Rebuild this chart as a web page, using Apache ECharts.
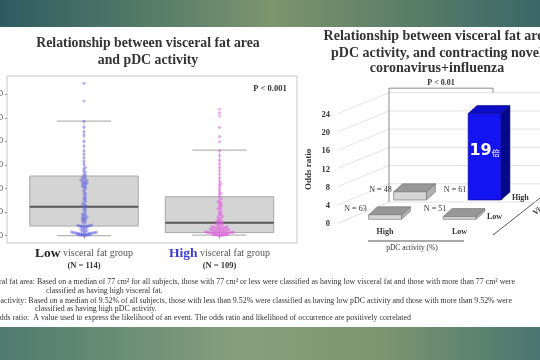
<!DOCTYPE html>
<html><head><meta charset="utf-8">
<script src="https://cdn.jsdelivr.net/npm/echarts@6/dist/echarts.min.js"></script>
<style>html,body{margin:0;padding:0;background:#fff}#c{width:540px;height:360px}</style>
</head><body><div id="c"></div>
<script>
// ---------- Left chart data (pDC activity by visceral fat group) ----------
const groupNames = ['Low', 'High'];
const groupN = [114, 109];
// [lower whisker, Q1, median, Q3, upper whisker]
const boxStats = [
  [0, 4.1, 12.3, 25.3, 48.6],
  [0.2, 1.3, 5.5, 16.5, 36.3]
];
const lowValues = [
  0.1,0.2,0.2,0.3,0.3,0.4,0.4,0.5,0.5,0.6,0.6,0.7,0.7,0.8,0.9,0.9,1.0,1.0,1.1,1.1,1.2,1.3,1.3,1.4,1.5,1.6,1.7,1.8,2.0,2.2,
  2.5,2.8,3.0,3.3,3.6,3.8,3.9,4.0,4.0,4.1,4.1,4.2,4.2,4.3,4.4,4.5,
  5.2,5.8,6.0,6.5,6.8,7.0,7.3,7.6,7.8,8.0,8.5,8.8,9.0,9.5,
  10.2,10.8,11.3,11.8,12.3,12.8,13.0,13.4,14.0,14.6,15.3,15.8,16.0,16.8,17.4,18.0,18.6,19.3,19.9,
  20.5,20.8,21.0,21.5,21.8,22.0,22.3,22.6,22.8,23.0,23.4,23.6,23.8,24.2,24.6,25.0,25.5,26.0,
  26.8,27.5,28.3,29.0,30.2,31.5,33.0,34.5,
  36.0,38.0,40.0,42.5,44.0,46.0,48.5,
  57.1,64.6
];
const highValues = [
  0.1,0.1,0.2,0.2,0.3,0.3,0.4,0.4,0.5,0.5,0.6,0.6,0.7,0.7,0.8,0.8,0.9,0.9,1.0,1.0,1.1,1.1,1.2,1.3,1.3,1.4,1.5,1.5,1.6,1.7,1.7,1.8,1.9,1.9,2.0,
  2.1,2.2,2.3,2.4,2.5,2.6,2.7,2.8,2.9,3.0,3.1,3.2,3.3,3.4,3.5,3.6,3.7,3.8,3.9,4.0,
  4.3,4.6,4.8,5.0,5.3,5.5,5.6,6.0,6.2,6.4,6.8,
  7.2,7.7,8.0,8.2,8.8,9.0,9.4,9.9,
  10.5,11.2,11.5,11.8,12.5,12.8,13.1,13.8,14.0,14.4,15.0,15.7,16.4,
  17.5,18.0,18.5,19.5,20.5,21.5,22.0,23.0,24.5,
  26.0,27.5,29.0,30.5,32.0,34.0,36.0,
  39.8,42.0,45.9,50.7,52.1,53.6
];
const yTicks = [0, 10, 20, 30, 40, 50, 60];

// ---------- Right chart data (odds ratio) ----------
const pdcCats = ['High', 'Low'];        // pDC activity columns
const fatCats = ['Low', 'High'];        // visceral fat rows (front, back)
const oddsValues = [[1.0, 0.6], [1.8, 19]];   // [fat row][pdc col]
const groupCounts = [[63, 51], [48, 61]];
const oddsTicks = [0, 4, 8, 12, 16, 20, 24];
const oddsUnit = '倍';

// ---------- layout helpers ----------
function swarm(values, center) {
  const bins = {};
  const step = 0.0115;
  return values.slice().sort((a, b) => a - b).map(v => {
    const k = Math.round(v / 1.1);
    const j = bins[k] = (bins[k] || 0) + 1;
    const idx = j - 1;
    const off = idx === 0 ? 0 : (idx % 2 ? 1 : -1) * Math.ceil(idx / 2) * step;
    return [center + off, v];
  });
}

const SERIF = '"Liberation Serif", "DejaVu Serif", serif';
const chart = echarts.init(document.getElementById('c'), null, {width: 540, height: 360});

const boxData = boxStats.map((s, i) => [i + 1].concat(s));
const barData = [];
[1, 0].forEach(r => pdcCats.forEach((c, ci) => barData.push([ci, oddsValues[r][ci], r, groupCounts[r][ci]])));

const ROW_DX = 25, ROW_DY = 19.3, BASE_LIFT = 4.7, DEP_DX = 9, DEP_DY = -8, WALL_DX = 51, WALL_DY = 22;

const option = {
  animation: false,
  backgroundColor: '#ffffff',
  grid: [
    {left: 7, right: 243, top: 76, bottom: 117, show: true, borderColor: '#c6c6c6', borderWidth: 1, backgroundColor: '#ffffff', containLabel: false, outerBoundsMode: 'none'},
    {left: 336, right: 0, top: 114.7, bottom: 136, show: false, containLabel: false, outerBoundsMode: 'none'}
  ],
  xAxis: [
    {gridIndex: 0, type: 'value', min: 0.432, max: 2.572, splitLine: {show: false}, axisLine: {show: false},
     axisTick: {show: true, customValues: [1, 2], length: 3, lineStyle: {color: '#999'}},
     axisLabel: {customValues: [1, 2], margin: 4,
       formatter: function (v) {
         const i = Math.round(v) - 1;
         const key = i === 0 ? 'a' : 'b';
         return '{' + key + '|' + groupNames[i] + '}{g| visceral fat group}\n{n|(N = ' + groupN[i] + ')}';
       },
       rich: {
         a: {fontFamily: SERIF, fontWeight: 'bold', fontSize: 13.5, color: '#1e1e1e', lineHeight: 13},
         b: {fontFamily: SERIF, fontWeight: 'bold', fontSize: 13.5, color: '#3b3bd6', lineHeight: 13},
         g: {fontFamily: SERIF, fontSize: 10, color: '#555', lineHeight: 13},
         n: {fontFamily: SERIF, fontWeight: 'bold', fontSize: 8.5, color: '#333', lineHeight: 11}
       }}},
    {gridIndex: 1, type: 'value', min: -0.658, max: 2.08, show: false}
  ],
  yAxis: [
    {gridIndex: 0, type: 'value', min: -3.1, max: 67.7, splitLine: {show: false}, axisLine: {show: false},
     axisTick: {show: true, customValues: yTicks, length: 2, lineStyle: {color: '#999'}},
     axisLabel: {customValues: yTicks, margin: 4, fontSize: 8, color: '#444', fontFamily: SERIF}},
    {gridIndex: 1, type: 'value', min: 0, max: 24, interval: 4, splitLine: {show: false},
     axisLine: {show: false}, axisTick: {show: false},
     axisLabel: {margin: 6, fontSize: 8.5, fontWeight: 'bold', color: '#333', fontFamily: SERIF},
     name: 'Odds ratio', nameLocation: 'middle', nameRotate: 90, nameGap: 23,
     nameTextStyle: {fontFamily: SERIF, fontWeight: 'bold', fontSize: 9, color: '#333'}}
  ],
  series: [
    // boxes
    {type: 'custom', xAxisIndex: 0, yAxisIndex: 0, data: boxData, encode: {x: 0, y: [1, 2, 3, 4, 5]}, z: 2,
     renderItem: function (params, api) {
       const x = api.value(0);
       const p = [1, 2, 3, 4, 5].map(d => api.coord([x, api.value(d)]));
       const w = api.size([0.8, 0])[0], cw = api.size([0.4, 0])[0];
       const cx = p[0][0];
       return {type: 'group', children: [
         {type: 'line', shape: {x1: cx, y1: p[4][1], x2: cx, y2: p[3][1]}, style: {stroke: '#cfcfcf', lineWidth: 1}},
         {type: 'line', shape: {x1: cx, y1: p[0][1], x2: cx, y2: p[1][1]}, style: {stroke: '#cfcfcf', lineWidth: 1}},
         {type: 'line', shape: {x1: cx - cw / 2, y1: p[4][1], x2: cx + cw / 2, y2: p[4][1]}, style: {stroke: '#b5b5b5', lineWidth: 1.2}},
         {type: 'line', shape: {x1: cx - cw / 2, y1: p[0][1], x2: cx + cw / 2, y2: p[0][1]}, style: {stroke: '#b5b5b5', lineWidth: 1.2}},
         {type: 'rect', shape: {x: cx - w / 2, y: p[3][1], width: w, height: p[1][1] - p[3][1]}, style: {fill: '#d4d4d4', stroke: '#a6a6a6', lineWidth: 1}},
         {type: 'line', shape: {x1: cx - w / 2, y1: p[2][1], x2: cx + w / 2, y2: p[2][1]}, style: {stroke: '#555', lineWidth: 2}}
       ]};
     }},
    {type: 'scatter', xAxisIndex: 0, yAxisIndex: 0, data: swarm(lowValues, 1), symbolSize: 3.2, z: 3,
     itemStyle: {color: 'rgba(95,95,225,0.55)'}},
    {type: 'scatter', xAxisIndex: 0, yAxisIndex: 0, data: swarm(highValues, 2), symbolSize: 3.2, z: 3,
     itemStyle: {color: 'rgba(225,95,225,0.6)'}},

    // right chart walls (grid lines on side wall + back wall)
    {type: 'custom', xAxisIndex: 1, yAxisIndex: 1, clip: false, z: 1, data: oddsTicks.map(v => [0, v]),
     encode: {x: 0, y: 1},
     renderItem: function (params, api) {
       const cs = params.coordSys;
       const y = api.coord([0, api.value(1)])[1];
       const fx = cs.x + 2, bx = cs.x + WALL_DX + 2;
       return {type: 'polyline', shape: {points: [[fx, y - 1], [bx, y - WALL_DY], [cs.x + cs.width, y - WALL_DY]]},
               style: {stroke: '#e3e3e3', lineWidth: 1, fill: null}};
     }},
    // back wall edge + significance bracket
    {type: 'custom', xAxisIndex: 1, yAxisIndex: 1, clip: false, z: 1, data: [[1, 25, 1]],
     encode: {x: 0, y: 1},
     renderItem: function (params, api) {
       const cs = params.coordSys;
       const bx = cs.x + WALL_DX + 2;
       const yTop = api.coord([0, api.value(1)])[1] - WALL_DY;
       const y0 = api.coord([0, 0])[1] - WALL_DY;
       const xr = api.coord([api.value(0), 0])[0] + api.value(2) * ROW_DX + DEP_DX / 2 + 4;
       return {type: 'group', children: [
         {type: 'polyline', shape: {points: [[bx, y0], [bx, yTop], [xr, yTop], [xr, yTop + 4.5]]}, style: {stroke: '#8a8a8a', lineWidth: 1, fill: null}},
         {type: 'text', style: {text: 'P < 0.01', x: (bx + xr) / 2, y: yTop - 5, align: 'center', verticalAlign: 'middle',
           font: 'bold 8px ' + SERIF, fill: '#333'}}
       ]};
     }},
    // 3D bars
    {type: 'custom', xAxisIndex: 1, yAxisIndex: 1, clip: false, z: 3, data: barData, encode: {x: 0, y: 1},
     renderItem: function (params, api) {
       const col = api.value(0), v = api.value(1), row = api.value(2), n = api.value(3);
       const b = api.coord([col, 0]);
       const unit = api.size([0, 1])[1];
       const w = api.size([0.44, 0])[0];
       const cx = b[0] + row * ROW_DX;
       const baseY = b[1] - BASE_LIFT - row * ROW_DY;
       const top = baseY - v * unit;
       const L = cx - w / 2, R = cx + w / 2;
       const big = v > 5;
       const c = big ? {front: '#1414f2', top: '#0d0dc8', side: '#07078c', stroke: '#06067a'}
                     : {front: '#d6d6d6', top: '#979797', side: '#b0b0b0', stroke: '#6c6c6c'};
       const kids = [
         {type: 'polygon', shape: {points: [[R, top], [R + DEP_DX, top + DEP_DY], [R + DEP_DX, baseY + DEP_DY], [R, baseY]]}, style: {fill: c.side, stroke: c.stroke, lineWidth: 0.6}},
         {type: 'polygon', shape: {points: [[L, top], [R, top], [R + DEP_DX, top + DEP_DY], [L + DEP_DX, top + DEP_DY]]}, style: {fill: c.top, stroke: c.stroke, lineWidth: 0.6}},
         {type: 'rect', shape: {x: L, y: top, width: w, height: baseY - top}, style: {fill: c.front, stroke: c.stroke, lineWidth: 0.6}},
         {type: 'text', style: {text: 'N = ' + n, x: L - 2 + (row === 0 && col === 1 ? 5 : 0), y: baseY - 10, align: 'right', verticalAlign: 'middle', font: '8px ' + SERIF, fill: '#333'}}
       ];
       if (big) {
         kids.push({type: 'text', style: {
           text: '{v|' + Math.round(v) + '}{u|' + oddsUnit + '}', x: cx, y: (top + baseY) / 2 - 6, align: 'center', verticalAlign: 'middle',
           rich: {v: {fontFamily: '"DejaVu Sans", sans-serif', fontWeight: 'bold', fontSize: 16, fill: '#ffffff'},
                  u: {fontFamily: '"Noto Sans CJK JP", sans-serif', fontSize: 8, fill: '#ffffff', padding: [5, 0, 0, 0]}}}});
       }
       return {type: 'group', children: kids};
     }},
    // front axis category labels (pDC activity)
    {type: 'custom', xAxisIndex: 1, yAxisIndex: 1, clip: false, z: 3, data: pdcCats.map((c, i) => [i, 0]), encode: {x: 0, y: 1},
     renderItem: function (params, api) {
       const p = api.coord([api.value(0), 0]);
       return {type: 'text', style: {text: pdcCats[params.dataIndex], x: p[0], y: p[1] + 8, align: 'center', verticalAlign: 'middle', font: 'bold 8px ' + SERIF, fill: '#333'}};
     }},
    // depth axis category labels (visceral fat)
    {type: 'custom', xAxisIndex: 1, yAxisIndex: 1, clip: false, z: 3, data: fatCats.map((c, r) => [1, 0, r]), encode: {x: 0, y: 1},
     renderItem: function (params, api) {
       const r = api.value(2);
       const p = api.coord([api.value(0), 0]);
       const w = api.size([0.44, 0])[0];
       const x = p[0] + r * ROW_DX + w / 2 + DEP_DX + 2;
       const y = p[1] - BASE_LIFT - r * ROW_DY - 2;
       return {type: 'text', style: {text: fatCats[params.dataIndex], x: x, y: y, align: 'left', verticalAlign: 'middle', font: 'bold 8px ' + SERIF, fill: '#333'}};
     }}
  ],
  graphic: [
    // slide bands
    {type: 'rect', shape: {x: 0, y: 0, width: 540, height: 27}, silent: true,
     style: {fill: new echarts.graphic.LinearGradient(0, 0, 1, 0, [
       {offset: 0, color: '#2d5b61'}, {offset: 0.3, color: '#5a7e69'}, {offset: 0.5, color: '#7b966e'},
       {offset: 0.62, color: '#6d8a69'}, {offset: 1, color: '#3a6767'}])}},
    {type: 'rect', shape: {x: 0, y: 327, width: 540, height: 33}, silent: true,
     style: {fill: new echarts.graphic.LinearGradient(0, 0, 1, 0, [
       {offset: 0, color: '#4f7b6f'}, {offset: 0.45, color: '#86a07b'}, {offset: 0.7, color: '#7c976f'},
       {offset: 1, color: '#4a7571'}])}},
    // titles
    {type: 'text', style: {text: 'Relationship between visceral fat area', x: 148, y: 43.3, align: 'center', verticalAlign: 'middle', font: 'bold 13.8px ' + SERIF, fill: '#333'}},
    {type: 'text', style: {text: 'and pDC activity', x: 148, y: 60, align: 'center', verticalAlign: 'middle', font: 'bold 13.8px ' + SERIF, fill: '#333'}},
    {type: 'text', style: {text: 'Relationship between visceral fat area', x: 437, y: 36.7, align: 'center', verticalAlign: 'middle', font: 'bold 14px ' + SERIF, fill: '#333'}},
    {type: 'text', style: {text: 'pDC activity, and contracting novel', x: 437, y: 53.3, align: 'center', verticalAlign: 'middle', font: 'bold 14px ' + SERIF, fill: '#333'}},
    {type: 'text', style: {text: 'coronavirus+influenza', x: 437, y: 68.8, align: 'center', verticalAlign: 'middle', font: 'bold 14px ' + SERIF, fill: '#333'}},
    {type: 'text', z: 10, style: {text: 'P < 0.001', x: 270, y: 89, align: 'center', verticalAlign: 'middle', font: 'bold 8.5px ' + SERIF, fill: '#333'}},
    // right chart axis titles
    {type: 'line', shape: {x1: 368, y1: 241, x2: 464, y2: 241}, style: {stroke: '#555', lineWidth: 1}},
    {type: 'text', style: {text: 'pDC activity (%)', x: 412, y: 248.5, align: 'center', verticalAlign: 'middle', font: '7.5px ' + SERIF, fill: '#333'}},
    {type: 'line', shape: {x1: 493, y1: 235, x2: 540, y2: 198}, style: {stroke: '#555', lineWidth: 1}},
    {type: 'text', rotation: 0.667, x: 534, y: 214, style: {text: 'Visceral fat area', x: 0, y: 0, align: 'left', verticalAlign: 'middle', font: 'bold 8px ' + SERIF, fill: '#333'}},
    // footnotes
    {type: 'text', style: {text: 'Visceral fat area: Based on a median of 77 cm² for all subjects, those with 77 cm² or less were classified as having low visceral fat and those with more than 77 cm² were', x: 515, y: 282, align: 'right', verticalAlign: 'middle', font: '7.9px ' + SERIF, fill: '#333'}},
    {type: 'text', style: {text: 'classified as having high visceral fat.', x: 46, y: 290.7, align: 'left', verticalAlign: 'middle', font: '7.9px ' + SERIF, fill: '#333'}},
    {type: 'text', style: {text: 'pDC activity: Based on a median of 9.52% of all subjects, those with less than 9.52% were classified as having low pDC activity and those with more than 9.52% were', x: 512, y: 300.5, align: 'right', verticalAlign: 'middle', font: '7.9px ' + SERIF, fill: '#333'}},
    {type: 'text', style: {text: 'classified as having high pDC activity.', x: 35, y: 309.3, align: 'left', verticalAlign: 'middle', font: '7.9px ' + SERIF, fill: '#333'}},
    {type: 'text', style: {text: 'Odds ratio:  A value used to express the likelihood of an event. The odds ratio and likelihood of occurrence are positively correlated', x: 411, y: 318.3, align: 'right', verticalAlign: 'middle', font: '7.9px ' + SERIF, fill: '#333'}}
  ]
};
chart.setOption(option);
</script>
</body></html>
